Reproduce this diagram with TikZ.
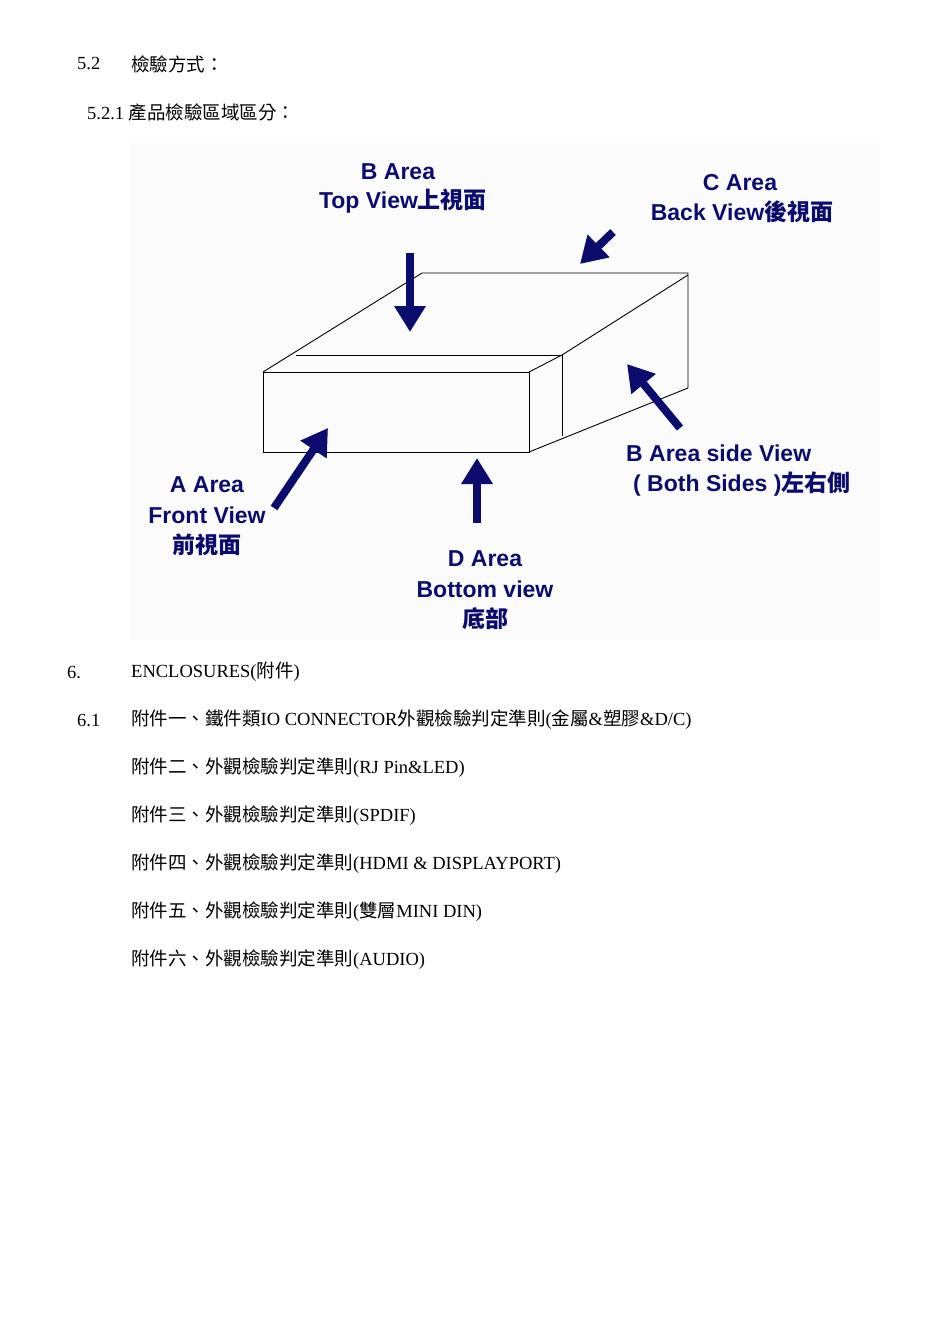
\documentclass[tikz,border=0pt]{standalone}
\usepackage{fontspec}
\setmainfont{Liberation Serif}
\newfontfamily\cjk{Noto Sans CJK TC}
\newfontfamily\arialf{Liberation Sans}
\usetikzlibrary{arrows.meta}
\definecolor{navy}{RGB}{12,12,110}
\tikzset{
 body/.style={anchor=west,inner sep=0pt,font=\fontsize{18.5}{20}\selectfont},
 lab/.style={inner sep=0pt,text=navy,font=\arialf\bfseries\fontsize{23}{25}\selectfont},
 bigarrow/.style={navy,line width=8pt,-{Triangle[width=30pt,length=26pt]}},
 edge/.style={line width=0.9pt}
}
\begin{document}
\begin{tikzpicture}[x=1pt,y=-1pt]
\useasboundingbox (0,0) rectangle (950,1344);
\fill[white] (0,0) rectangle (950,1344);
\fill[black!1.5] (130,143) rectangle (880,640);
% text
\node[body] (t1) at (77,64) {5.2};
\node[body] (t1b) at (131,64) {\cjk 檢驗方式：};
\node[body] (t2) at (87,112) {5.2.1 {\cjk 產品檢驗區域區分：}};
\node[body] (t3) at (67,672) {6.};
\node[body] (t3b) at (131,672) {ENCLOSURES({\cjk 附件})};
\node[body] (t4) at (77,720) {6.1};
\node[body] (t4b) at (131,720) {{\cjk 附件一、鐵件類}IO CONNECTOR{\cjk 外觀檢驗判定準則}({\cjk 金屬}\&{\cjk 塑膠}\&D/C)};
\node[body] (t5) at (131,768) {{\cjk 附件二、外觀檢驗判定準則}(RJ Pin\&LED)};
\node[body] (t6) at (131,816) {{\cjk 附件三、外觀檢驗判定準則}(SPDIF)};
\node[body] (t7) at (131,864) {{\cjk 附件四、外觀檢驗判定準則}(HDMI \& DISPLAYPORT)};
\node[body] (t8) at (131,912) {{\cjk 附件五、外觀檢驗判定準則}({\cjk 雙層}MINI DIN)};
\node[body] (t9) at (131,960) {{\cjk 附件六、外觀檢驗判定準則}(AUDIO)};
% box
\draw[edge] (263,372) rectangle (529,452);
\draw[edge] (263,372) -- (422,273) -- (688,273) -- (688,388) -- (529,452);
\draw[edge] (529,372) -- (562,355) -- (688,275);
\draw[edge] (296,355) -- (562,355) -- (562,436);
% arrows
\coordinate (a1s) at (410,253); \coordinate (a1e) at (410,332);
\coordinate (a2s) at (613,232); \coordinate (a2e) at (580,264);
\coordinate (a3s) at (680,428); \coordinate (a3e) at (627,364);
\coordinate (a4s) at (274,508); \coordinate (a4e) at (328,428);
\coordinate (a5s) at (477,523); \coordinate (a5e) at (477,458);
\draw[bigarrow] (a1s) -- (a1e);
\draw[bigarrow] (a2s) -- (a2e);
\draw[bigarrow] (a3s) -- (a3e);
\draw[bigarrow] (a4s) -- (a4e);
\draw[bigarrow] (a5s) -- (a5e);
% labels
\node[lab] (b1) at (398,172) {B Area};
\node[lab] (b2) at (403,201) {Top View{\cjk 上視面}};
\node[lab] (c1) at (740,183) {C Area};
\node[lab] (c2) at (742,212) {Back View{\cjk 後視面}};
\node[lab,anchor=west] (s1) at (626,453) {B Area side View};
\node[lab,anchor=west] (s2) at (633,484) {( Both Sides ){\cjk 左右側}};
\node[lab] (f1) at (207,485) {A Area};
\node[lab] (f2) at (207,515) {Front View};
\node[lab] (f3) at (207,545) {\cjk 前視面};
\node[lab] (d1) at (485,559) {D Area};
\node[lab] (d2) at (485,589) {Bottom view};
\node[lab] (d3) at (485,619) {\cjk 底部};
\end{tikzpicture}
\end{document}
